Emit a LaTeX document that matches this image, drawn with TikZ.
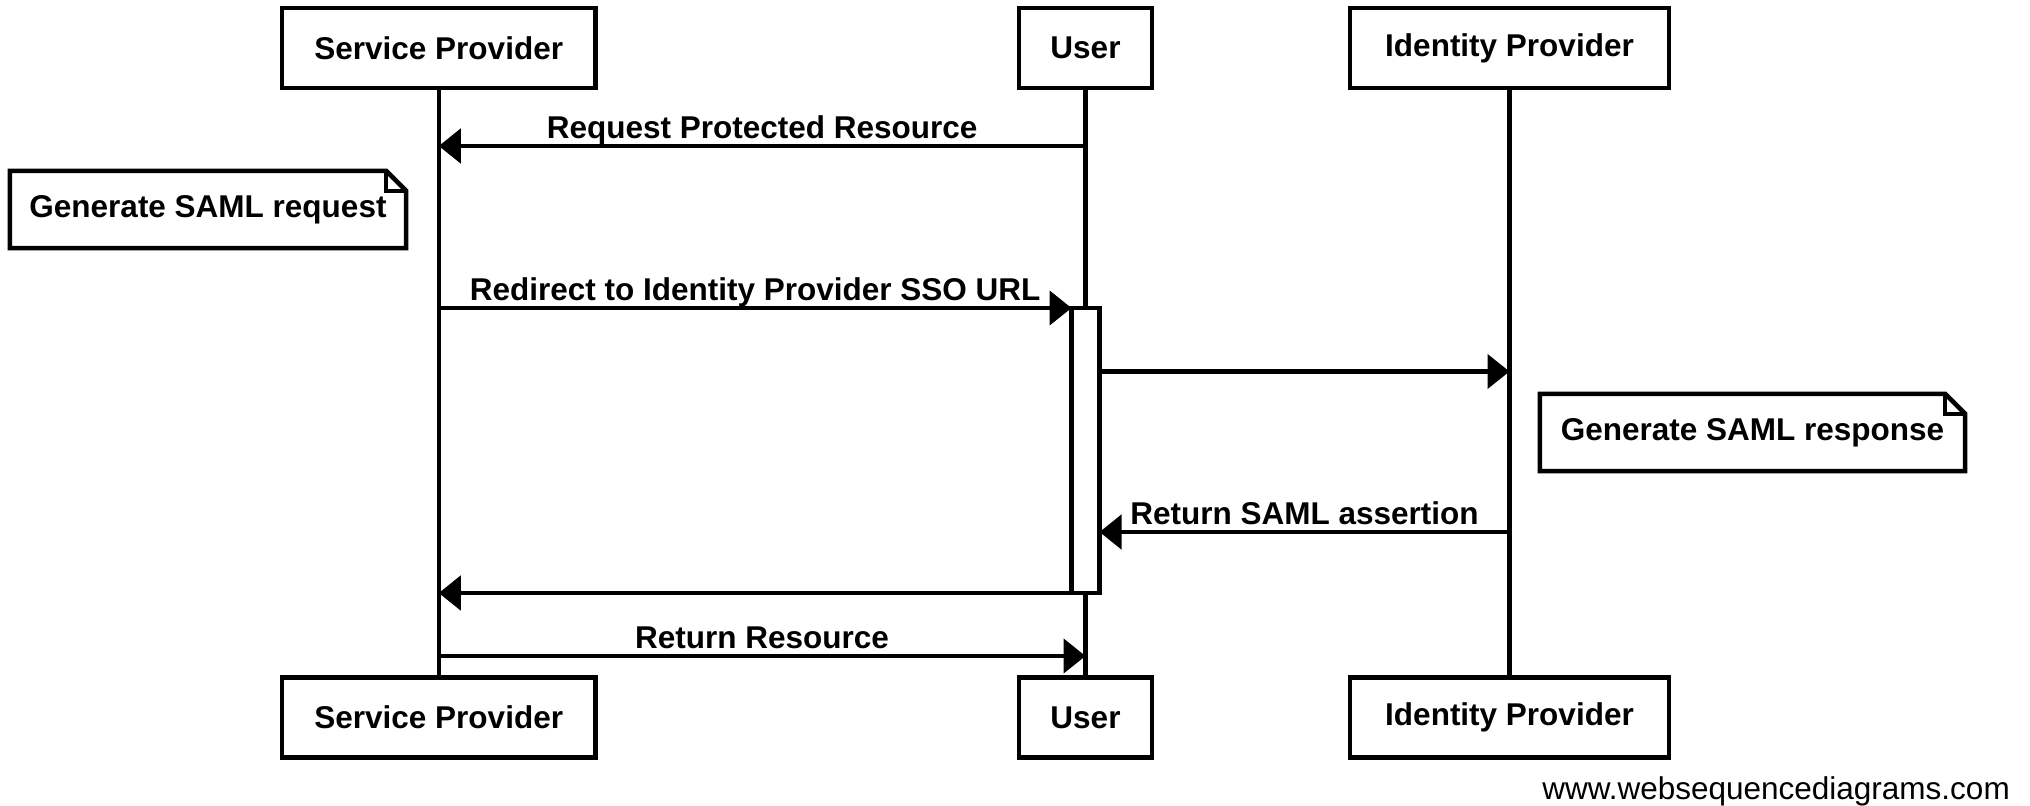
\documentclass[tikz,border=0pt]{standalone}
\usepackage{fontspec}
\setmainfont{Liberation Sans}
\usetikzlibrary{arrows.meta}

\begin{document}
\begin{tikzpicture}[x=1pt, y=-1pt]

  % Define line and text sizes
  \def\linew{4.5pt}
  \def\fold{20pt}

  \tikzset{
    actor/.style={draw, line width=\linew, minimum height=80pt, inner sep=0pt,
      font=\bfseries\fontsize{31.5}{36}\selectfont},
    lifeline/.style={line width=\linew},
    msg/.style={line width=\linew, -{Triangle[length=22pt, width=34pt]}},
    msglabel/.style={above, inner sep=1pt, text height=23pt, text depth=4.5pt,
      font=\bfseries\fontsize{31.5}{36}\selectfont},
    notetext/.style={inner sep=0pt, minimum height=77pt,
      font=\bfseries\fontsize{31.5}{36}\selectfont},
    notebox/.style={line width=\linew, line join=miter},
    activation/.style={draw, fill=white, line width=\linew, inner sep=0pt,
      outer sep=0pt, minimum width=28pt}
  }

  \useasboundingbox (0,0) rectangle (2030,806);

  % Participants on top and bottom, with their lifelines
  \foreach \nm/\x/\w/\txt in {sp/438.75/313.5/Service Provider,
                              user/1085.5/133/User,
                              idp/1509.5/319/Identity Provider} {
    \node[actor, minimum width=\w pt] (\nm-top) at (\x,48) {\txt};
    \node[actor, minimum width=\w pt] (\nm-bot) at (\x,717.5) {\txt};
    \draw[lifeline] (\nm-top) -- (\nm-bot);
  }

  % Activation bar on the user
  \node[activation, minimum height=285pt] (act) at (1085.5,450.5) {};

  % Message ends on the lifelines
  \coordinate (m1-user) at (user-top |- 0,146);
  \coordinate (m1-sp) at (sp-top |- 0,146);
  \coordinate (m2-sp) at (sp-top |- act.north west);
  \coordinate (m3-act) at (act.east |- 0,371.5);
  \coordinate (m3-idp) at (idp-top |- 0,371.5);
  \coordinate (m4-idp) at (idp-top |- 0,532);
  \coordinate (m4-act) at (act.east |- 0,532);
  \coordinate (m5-sp) at (sp-top |- act.south west);
  \coordinate (m6-sp) at (sp-top |- 0,656);
  \coordinate (m6-user) at (user-top |- 0,656);

  % Messages
  \draw[msg] (m1-user) -- node[msglabel] {Request Protected Resource} (m1-sp);
  \draw[msg] (m2-sp) -- node[msglabel] {Redirect to Identity Provider SSO URL} (act.north west);
  \draw[msg] (m3-act) -- (m3-idp);
  \draw[msg] (m4-idp) -- node[msglabel] {Return SAML assertion} (m4-act);
  \draw[msg] (act.south west) -- (m5-sp);
  \draw[msg] (m6-sp) -- node[msglabel] {Return Resource} (m6-user);

  % Notes with a folded corner
  \node[notetext, minimum width=396pt] (reqNote) at (208,209.5) {Generate SAML request};
  \node[notetext, minimum width=425pt] (respNote) at (1752.5,432.5) {Generate SAML response};
  \foreach \n in {reqNote, respNote} {
    \draw[notebox] (\n.north west) -- ([xshift=-\fold]\n.north east)
      -- ([yshift=-\fold]\n.north east) -- (\n.south east) -- (\n.south west) -- cycle;
    \draw[notebox] ([xshift=-\fold]\n.north east) |- ([yshift=-\fold]\n.north east);
  }

  % Footer
  \node[anchor=east, inner sep=0pt, font=\fontsize{31.5}{36}\selectfont] (site) at (2010,791)
    {www.websequencediagrams.com};

\end{tikzpicture}
\end{document}
